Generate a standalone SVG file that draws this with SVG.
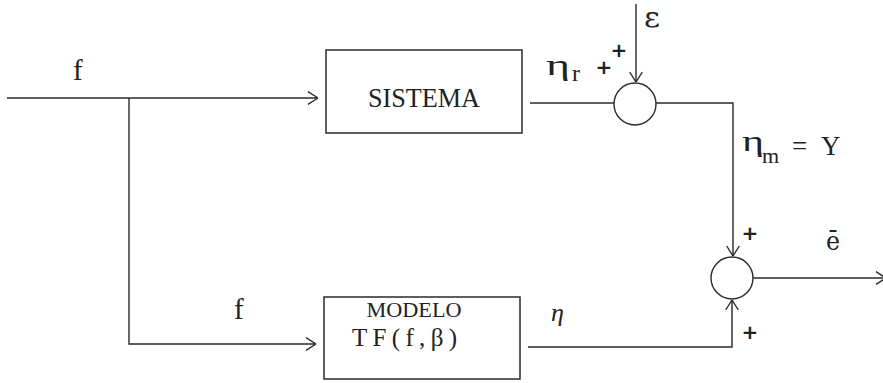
<svg xmlns="http://www.w3.org/2000/svg" width="883" height="383" viewBox="0 0 883 383">
<style>
.ln{fill:none;stroke:#2a2a2a;stroke-width:1.4}
.bx{fill:#fff;stroke:#2a2a2a;stroke-width:1.5}
.t{font-family:"Liberation Serif","DejaVu Serif",serif;fill:#222}
.g{font-family:"DejaVu Serif","Liberation Serif",serif;fill:#222}
.pl{font-family:"DejaVu Sans","Liberation Sans",sans-serif;font-size:20px;font-weight:bold;fill:#222;text-anchor:middle}
</style>
<defs>
<marker id="ah" viewBox="0 0 11 14" refX="11" refY="7" markerWidth="11" markerHeight="14" markerUnits="userSpaceOnUse" orient="auto">
<path d="M1,0.7 L11,7 L1,13.3" fill="none" stroke="#2a2a2a" stroke-width="1.4"/>
</marker>
</defs>
<rect width="883" height="383" fill="#fff"/>
<g id="connectors">
<path class="ln" d="M7,98 L318,98" marker-end="url(#ah)"/>
<path class="ln" d="M129,98 L129,344 L316,344" marker-end="url(#ah)"/>
<path class="ln" d="M530,103 L614,103"/>
<path class="ln" d="M636,4 L636,82" marker-end="url(#ah)"/>
<path class="ln" d="M656,103 L733,103 L733,256" marker-end="url(#ah)"/>
<path class="ln" d="M528,347 L732,347 L732,300" marker-end="url(#ah)"/>
<path class="ln" d="M753,278 L886,278" marker-end="url(#ah)"/>
</g>
<g id="sistema">
<rect class="bx" x="326" y="50" width="196" height="83"/>
<text class="t" x="424" y="107" font-size="27" text-anchor="middle" textLength="112" lengthAdjust="spacingAndGlyphs">SISTEMA</text>
</g>
<g id="modelo">
<rect class="bx" x="324" y="297" width="196" height="82"/>
<text class="t" x="414" y="317" font-size="22" text-anchor="middle" textLength="95" lengthAdjust="spacingAndGlyphs">MODELO</text>
<text class="t" x="352" y="346" font-size="25" textLength="105" lengthAdjust="spacing">TF(f,β)</text>
</g>
<g id="sum1">
<circle class="ln" cx="635" cy="104" r="21"/>
</g>
<g id="sum2">
<circle class="ln" cx="732" cy="278" r="21"/>
</g>
<g id="labels">
<text class="t" x="73" y="80" font-size="29">f</text>
<text class="t" x="234" y="319" font-size="29">f</text>
<text class="g" x="644" y="27" font-size="28" textLength="16" lengthAdjust="spacingAndGlyphs">ε</text>
<text class="pl" x="619" y="57">+</text>
<text class="pl" x="604" y="74">+</text>
<text class="t" x="546" y="75" font-size="30" textLength="24" lengthAdjust="spacingAndGlyphs">η</text>
<text class="t" x="572" y="81" font-size="24">r</text>
<text class="t" x="742" y="151" font-size="30" textLength="22" lengthAdjust="spacingAndGlyphs">η</text>
<text class="t" x="762" y="163" font-size="22">m</text>
<text class="t" x="792" y="155" font-size="27">=</text>
<text class="t" x="821" y="155" font-size="27">Y</text>
<text class="g" x="826" y="250" font-size="26" textLength="14" lengthAdjust="spacingAndGlyphs">ē</text>
<text class="pl" x="750" y="240">+</text>
<text class="pl" x="750" y="339">+</text>
<text class="t" x="551" y="321" font-size="26" font-style="italic">η</text>
</g>
</svg>
